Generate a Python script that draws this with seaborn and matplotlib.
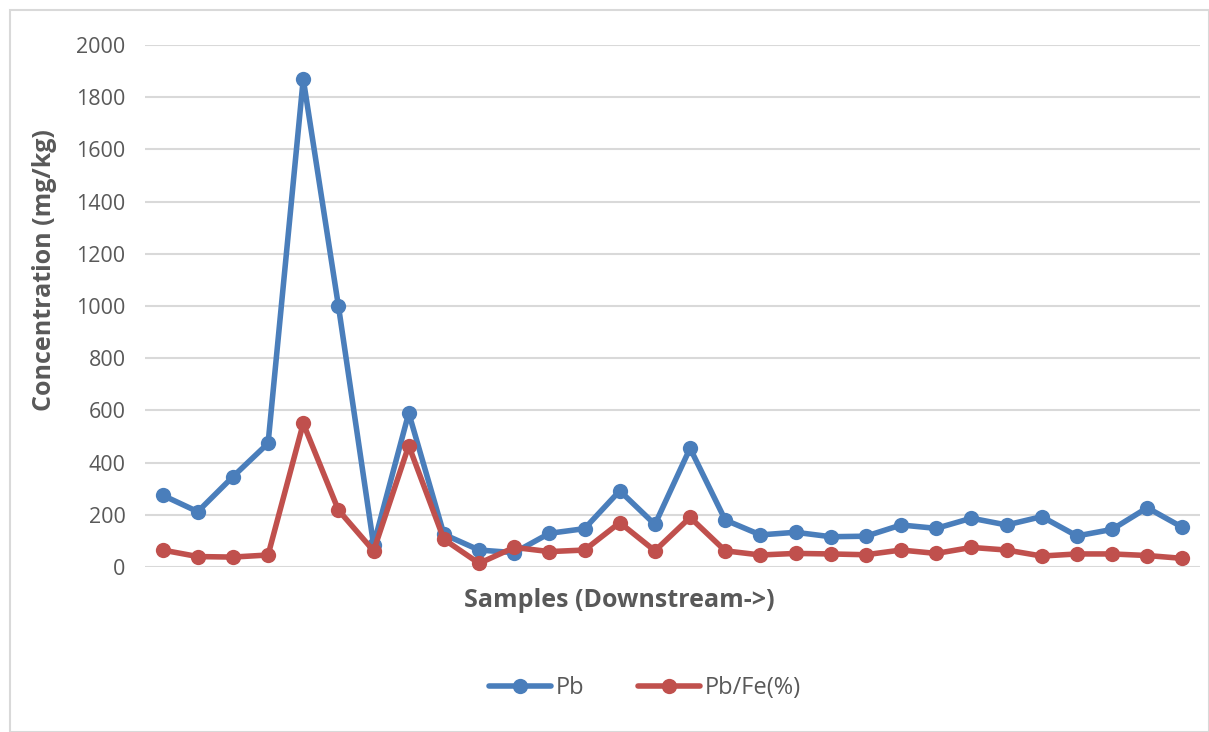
import pandas as pd
import numpy as np
import matplotlib.pyplot as plt
import seaborn as sns
from matplotlib.patches import Rectangle

# values (30 samples, downstream order)
samples = list(range(1, 31))
pb = [275, 212, 346, 474, 1870, 1000, 85, 590, 125, 65,
      55, 129, 147, 292, 163, 455, 180, 123, 133, 116,
      118, 161, 148, 187, 161, 193, 119, 144, 227, 152]
pb_fe = [65, 40, 38, 46, 550, 218, 62, 465, 106, 14,
         75, 59, 65, 170, 62, 190, 62, 46, 52, 50,
         47, 65, 52, 75, 65, 42, 50, 50, 44, 33]
series_names = ['Pb', 'Pb/Fe(%)']
y_ticks = [0, 200, 400, 600, 800, 1000, 1200, 1400, 1600, 1800, 2000]

df = pd.DataFrame({
    'sample': samples * 2,
    'value': pb + pb_fe,
    'series': [series_names[0]] * len(pb) + [series_names[1]] * len(pb_fe),
})
df['pos'] = df['sample'] - 1

sns.set_theme(style="white")
plt.rcParams['font.family'] = ['Open Sans', 'DejaVu Sans']

fig = plt.figure(figsize=(12.09, 7.32), dpi=100)
fig.patches.append(Rectangle((10 / 1209, 0), 1 - 10 / 1209, 1 - 10 / 732,
                             transform=fig.transFigure, fill=False,
                             edgecolor='#d9d9d9', linewidth=1.5))
ax = fig.add_axes([145 / 1209, 1 - 567 / 732, 1055 / 1209, 522 / 732])

palette = {'Pb': '#4a7ebb', 'Pb/Fe(%)': '#c0504d'}
sns.lineplot(data=df, x='pos', y='value', hue='series', palette=palette,
             marker='o', markersize=11, markeredgewidth=0, linewidth=4,
             ax=ax, legend=False, clip_on=False)

ax.set_xlim(-0.5, len(samples) - 0.5)
ax.set_ylim(0, 2000)
ax.set_yticks(y_ticks)
ax.set_yticklabels([str(t) for t in y_ticks], color='#595959', fontsize=15.5)
ax.set_xticks([])
ax.tick_params(axis='y', length=0, pad=14)
ax.yaxis.grid(True, color='#d9d9d9', linewidth=1.5)
ax.set_axisbelow(True)
for s in ax.spines.values():
    s.set_visible(False)

ax.set_ylabel('Concentration (mg/kg)', fontsize=18, fontweight='bold',
              color='#595959')
ax.yaxis.set_label_coords(-0.083, 0.569)
ax.set_xlabel('Samples (Downstream->)', fontsize=18, fontweight='bold',
              color='#595959')
ax.xaxis.set_label_coords(0.45, -0.04)

handles = [plt.Line2D([], [], color=palette[n], marker='o', markersize=11,
                      markeredgewidth=0, linewidth=4) for n in series_names]
fig.legend(handles, series_names, loc='center', bbox_to_anchor=(645 / 1209, 1 - 688 / 732),
           ncol=2, frameon=False, fontsize=17, labelcolor='#595959',
           handlelength=2.6, columnspacing=2.3, handletextpad=0.2)

fig.savefig('out.png', dpi=100)
plt.close()
